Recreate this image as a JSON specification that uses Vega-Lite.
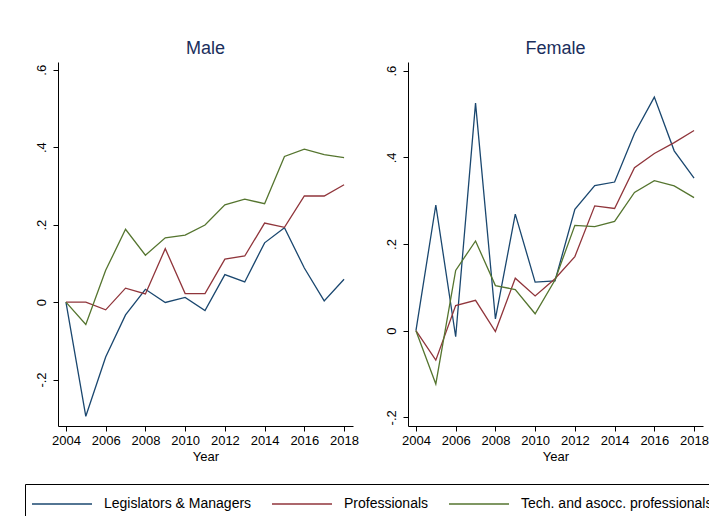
{
  "$schema": "https://vega.github.io/schema/vega-lite/v6.json",
  "padding": {"left": 24, "top": 40, "right": 0, "bottom": 0},
  "background": "white",
  "config": {
    "font": "Liberation Sans",
    "view": {"stroke": null},
    "axis": {"domainColor": "#000000", "tickColor": "#000000", "labelColor": "#000000", "titleColor": "#000000", "labelFontSize": 13, "titleFontSize": 13, "titleFontWeight": "normal", "grid": false, "tickSize": 5, "domainWidth": 1, "tickWidth": 1, "labelFont": "Liberation Sans", "titleFont": "Liberation Sans"},
    "title": {"fontSize": 18, "fontWeight": "normal", "color": "#1a2e5c", "offset": 4, "font": "Liberation Sans"},
    "legend": {"labelFont": "Liberation Sans"}
  },
  "datasets": {
    "d": [
      {"sex": "Male", "occ": "Legislators & Managers", "year": 2004, "value": 0},
      {"sex": "Male", "occ": "Legislators & Managers", "year": 2005, "value": -0.295},
      {"sex": "Male", "occ": "Legislators & Managers", "year": 2006, "value": -0.142},
      {"sex": "Male", "occ": "Legislators & Managers", "year": 2007, "value": -0.033},
      {"sex": "Male", "occ": "Legislators & Managers", "year": 2008, "value": 0.033},
      {"sex": "Male", "occ": "Legislators & Managers", "year": 2009, "value": -0.001},
      {"sex": "Male", "occ": "Legislators & Managers", "year": 2010, "value": 0.012},
      {"sex": "Male", "occ": "Legislators & Managers", "year": 2011, "value": -0.022},
      {"sex": "Male", "occ": "Legislators & Managers", "year": 2012, "value": 0.071},
      {"sex": "Male", "occ": "Legislators & Managers", "year": 2013, "value": 0.052},
      {"sex": "Male", "occ": "Legislators & Managers", "year": 2014, "value": 0.153},
      {"sex": "Male", "occ": "Legislators & Managers", "year": 2015, "value": 0.192},
      {"sex": "Male", "occ": "Legislators & Managers", "year": 2016, "value": 0.088},
      {"sex": "Male", "occ": "Legislators & Managers", "year": 2017, "value": 0.003},
      {"sex": "Male", "occ": "Legislators & Managers", "year": 2018, "value": 0.059},
      {"sex": "Male", "occ": "Professionals", "year": 2004, "value": 0},
      {"sex": "Male", "occ": "Professionals", "year": 2005, "value": 0.0},
      {"sex": "Male", "occ": "Professionals", "year": 2006, "value": -0.02},
      {"sex": "Male", "occ": "Professionals", "year": 2007, "value": 0.036},
      {"sex": "Male", "occ": "Professionals", "year": 2008, "value": 0.021},
      {"sex": "Male", "occ": "Professionals", "year": 2009, "value": 0.138},
      {"sex": "Male", "occ": "Professionals", "year": 2010, "value": 0.022},
      {"sex": "Male", "occ": "Professionals", "year": 2011, "value": 0.022},
      {"sex": "Male", "occ": "Professionals", "year": 2012, "value": 0.111},
      {"sex": "Male", "occ": "Professionals", "year": 2013, "value": 0.119},
      {"sex": "Male", "occ": "Professionals", "year": 2014, "value": 0.204},
      {"sex": "Male", "occ": "Professionals", "year": 2015, "value": 0.193},
      {"sex": "Male", "occ": "Professionals", "year": 2016, "value": 0.274},
      {"sex": "Male", "occ": "Professionals", "year": 2017, "value": 0.274},
      {"sex": "Male", "occ": "Professionals", "year": 2018, "value": 0.303},
      {"sex": "Male", "occ": "Tech. and asocc. professionals", "year": 2004, "value": 0},
      {"sex": "Male", "occ": "Tech. and asocc. professionals", "year": 2005, "value": -0.058},
      {"sex": "Male", "occ": "Tech. and asocc. professionals", "year": 2006, "value": 0.082},
      {"sex": "Male", "occ": "Tech. and asocc. professionals", "year": 2007, "value": 0.188},
      {"sex": "Male", "occ": "Tech. and asocc. professionals", "year": 2008, "value": 0.121},
      {"sex": "Male", "occ": "Tech. and asocc. professionals", "year": 2009, "value": 0.166},
      {"sex": "Male", "occ": "Tech. and asocc. professionals", "year": 2010, "value": 0.173},
      {"sex": "Male", "occ": "Tech. and asocc. professionals", "year": 2011, "value": 0.199},
      {"sex": "Male", "occ": "Tech. and asocc. professionals", "year": 2012, "value": 0.251},
      {"sex": "Male", "occ": "Tech. and asocc. professionals", "year": 2013, "value": 0.266},
      {"sex": "Male", "occ": "Tech. and asocc. professionals", "year": 2014, "value": 0.254},
      {"sex": "Male", "occ": "Tech. and asocc. professionals", "year": 2015, "value": 0.376},
      {"sex": "Male", "occ": "Tech. and asocc. professionals", "year": 2016, "value": 0.395},
      {"sex": "Male", "occ": "Tech. and asocc. professionals", "year": 2017, "value": 0.381},
      {"sex": "Male", "occ": "Tech. and asocc. professionals", "year": 2018, "value": 0.373},
      {"sex": "Female", "occ": "Legislators & Managers", "year": 2004, "value": 0},
      {"sex": "Female", "occ": "Legislators & Managers", "year": 2005, "value": 0.29},
      {"sex": "Female", "occ": "Legislators & Managers", "year": 2006, "value": -0.014},
      {"sex": "Female", "occ": "Legislators & Managers", "year": 2007, "value": 0.525},
      {"sex": "Female", "occ": "Legislators & Managers", "year": 2008, "value": 0.027},
      {"sex": "Female", "occ": "Legislators & Managers", "year": 2009, "value": 0.269},
      {"sex": "Female", "occ": "Legislators & Managers", "year": 2010, "value": 0.112},
      {"sex": "Female", "occ": "Legislators & Managers", "year": 2011, "value": 0.115},
      {"sex": "Female", "occ": "Legislators & Managers", "year": 2012, "value": 0.28},
      {"sex": "Female", "occ": "Legislators & Managers", "year": 2013, "value": 0.335},
      {"sex": "Female", "occ": "Legislators & Managers", "year": 2014, "value": 0.343},
      {"sex": "Female", "occ": "Legislators & Managers", "year": 2015, "value": 0.455},
      {"sex": "Female", "occ": "Legislators & Managers", "year": 2016, "value": 0.539},
      {"sex": "Female", "occ": "Legislators & Managers", "year": 2017, "value": 0.415},
      {"sex": "Female", "occ": "Legislators & Managers", "year": 2018, "value": 0.352},
      {"sex": "Female", "occ": "Professionals", "year": 2004, "value": 0},
      {"sex": "Female", "occ": "Professionals", "year": 2005, "value": -0.068},
      {"sex": "Female", "occ": "Professionals", "year": 2006, "value": 0.058},
      {"sex": "Female", "occ": "Professionals", "year": 2007, "value": 0.07},
      {"sex": "Female", "occ": "Professionals", "year": 2008, "value": -0.002},
      {"sex": "Female", "occ": "Professionals", "year": 2009, "value": 0.121},
      {"sex": "Female", "occ": "Professionals", "year": 2010, "value": 0.08},
      {"sex": "Female", "occ": "Professionals", "year": 2011, "value": 0.12},
      {"sex": "Female", "occ": "Professionals", "year": 2012, "value": 0.171},
      {"sex": "Female", "occ": "Professionals", "year": 2013, "value": 0.288},
      {"sex": "Female", "occ": "Professionals", "year": 2014, "value": 0.282},
      {"sex": "Female", "occ": "Professionals", "year": 2015, "value": 0.376},
      {"sex": "Female", "occ": "Professionals", "year": 2016, "value": 0.409},
      {"sex": "Female", "occ": "Professionals", "year": 2017, "value": 0.434},
      {"sex": "Female", "occ": "Professionals", "year": 2018, "value": 0.462},
      {"sex": "Female", "occ": "Tech. and asocc. professionals", "year": 2004, "value": 0},
      {"sex": "Female", "occ": "Tech. and asocc. professionals", "year": 2005, "value": -0.123},
      {"sex": "Female", "occ": "Tech. and asocc. professionals", "year": 2006, "value": 0.139},
      {"sex": "Female", "occ": "Tech. and asocc. professionals", "year": 2007, "value": 0.207},
      {"sex": "Female", "occ": "Tech. and asocc. professionals", "year": 2008, "value": 0.104},
      {"sex": "Female", "occ": "Tech. and asocc. professionals", "year": 2009, "value": 0.095},
      {"sex": "Female", "occ": "Tech. and asocc. professionals", "year": 2010, "value": 0.039},
      {"sex": "Female", "occ": "Tech. and asocc. professionals", "year": 2011, "value": 0.117},
      {"sex": "Female", "occ": "Tech. and asocc. professionals", "year": 2012, "value": 0.243},
      {"sex": "Female", "occ": "Tech. and asocc. professionals", "year": 2013, "value": 0.24},
      {"sex": "Female", "occ": "Tech. and asocc. professionals", "year": 2014, "value": 0.252},
      {"sex": "Female", "occ": "Tech. and asocc. professionals", "year": 2015, "value": 0.319},
      {"sex": "Female", "occ": "Tech. and asocc. professionals", "year": 2016, "value": 0.346},
      {"sex": "Female", "occ": "Tech. and asocc. professionals", "year": 2017, "value": 0.334},
      {"sex": "Female", "occ": "Tech. and asocc. professionals", "year": 2018, "value": 0.307}
    ]
  },
  "data": {"name": "d"},
  "bounds": "flush",
  "spacing": 55,
  "hconcat": [
    {
      "title": "Male",
      "width": 295,
      "height": 364,
      "transform": [{"filter": "datum.sex === 'Male'"}],
      "mark": {"type": "line", "strokeWidth": 1.3},
      "encoding": {
        "x": {"field": "year", "type": "quantitative", "scale": {"domain": [2003.6, 2018.45], "nice": false, "zero": false}, "axis": {"title": "Year", "values": [2004, 2006, 2008, 2010, 2012, 2014, 2016, 2018], "format": "d", "labelFlush": false, "labelPadding": 3, "titlePadding": 3}},
        "y": {"field": "value", "type": "quantitative", "scale": {"domain": [-0.32, 0.62], "nice": false, "zero": false}, "axis": {"title": null, "values": [-0.2, 0, 0.2, 0.4, 0.6], "labelExpr": "datum.value === 0 ? '0' : (datum.value < 0 ? '-' : '') + replace(format(abs(datum.value), '.1f'), '0.', '.')", "labelAngle": 270, "labelAlign": "center", "labelBaseline": "bottom", "labelPadding": 5}},
        "color": {"field": "occ", "type": "nominal", "scale": {"domain": ["Legislators & Managers", "Professionals", "Tech. and asocc. professionals"], "range": ["#1a476f", "#90353b", "#55752f"]},
          "legend": {"title": null, "orient": "none", "legendX": -33, "legendY": 422, "direction": "horizontal", "columns": 3, "symbolType": "M-1.3,0H4.7", "symbolSize": 400, "symbolStrokeWidth": 1.5, "labelFontSize": 14, "labelColor": "#000000", "labelOffset": 48, "columnPadding": 17, "padding": 9, "strokeColor": "#000000", "fillColor": "#ffffff", "labelLimit": 400}}
      }
    },
    {
      "title": "Female",
      "width": 295,
      "height": 364,
      "transform": [{"filter": "datum.sex === 'Female'"}],
      "mark": {"type": "line", "strokeWidth": 1.3},
      "encoding": {
        "x": {"field": "year", "type": "quantitative", "scale": {"domain": [2003.6, 2018.45], "nice": false, "zero": false}, "axis": {"title": "Year", "values": [2004, 2006, 2008, 2010, 2012, 2014, 2016, 2018], "format": "d", "labelFlush": false, "labelPadding": 3, "titlePadding": 3}},
        "y": {"field": "value", "type": "quantitative", "scale": {"domain": [-0.22, 0.62], "nice": false, "zero": false}, "axis": {"title": null, "values": [-0.2, 0, 0.2, 0.4, 0.6], "labelExpr": "datum.value === 0 ? '0' : (datum.value < 0 ? '-' : '') + replace(format(abs(datum.value), '.1f'), '0.', '.')", "labelAngle": 270, "labelAlign": "center", "labelBaseline": "bottom", "labelPadding": 5}},
        "color": {"field": "occ", "type": "nominal", "scale": {"domain": ["Legislators & Managers", "Professionals", "Tech. and asocc. professionals"], "range": ["#1a476f", "#90353b", "#55752f"]},
          "legend": {"title": null, "orient": "none", "legendX": -33, "legendY": 422, "direction": "horizontal", "columns": 3, "symbolType": "M-1.3,0H4.7", "symbolSize": 400, "symbolStrokeWidth": 1.5, "labelFontSize": 14, "labelColor": "#000000", "labelOffset": 48, "columnPadding": 17, "padding": 9, "strokeColor": "#000000", "fillColor": "#ffffff", "labelLimit": 400}}
      }
    }
  ],
  "resolve": {"scale": {"y": "independent"}}
}
